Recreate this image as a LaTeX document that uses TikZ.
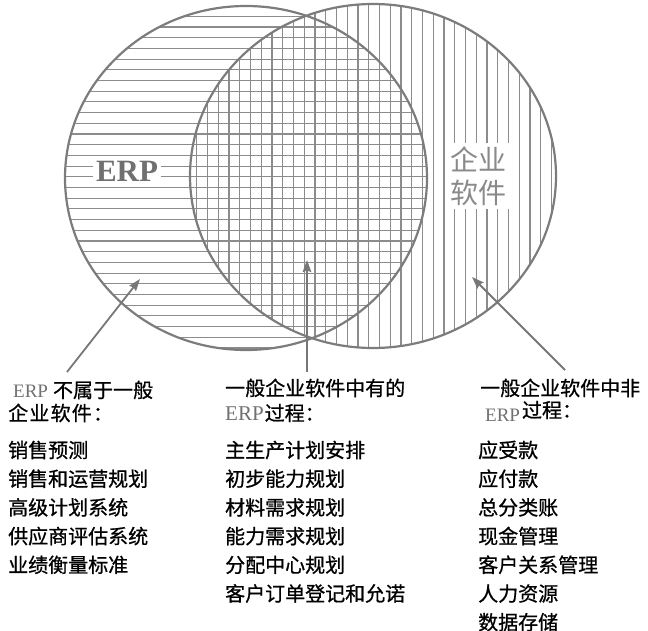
\documentclass[tikz,border=0pt]{standalone}
\usepackage{fontspec}
\setmainfont{Liberation Serif}
\newfontfamily\cjk{Noto Sans CJK SC}[FakeBold=0.8]
\newfontfamily\cjklight{Noto Sans CJK SC}
\newfontfamily\cjkwide{Noto Sans CJK SC}[LetterSpace=6,FakeBold=0.8]
\newfontfamily\erpfont{Liberation Serif}
\usetikzlibrary{arrows.meta}
\definecolor{lineg}{HTML}{7C7C7C}
\definecolor{hatchg}{HTML}{8C8C8C}
\definecolor{arrowg}{HTML}{777777}
\definecolor{erpg}{HTML}{707070}
\definecolor{softg}{HTML}{8A8A8A}
\newcommand{\erptag}[1]{\textcolor{erpg}{\erpfont\fontsize{#1}{#1}\selectfont ERP}}
\begin{document}
\begin{tikzpicture}[x=1pt,y=-1pt,
  hatch/.style={draw=hatchg,line width=1.1pt},
  rim/.style={draw=lineg,line width=2.2pt},
  ptr/.style={draw=arrowg,line width=1.8pt,-{Stealth[length=12pt,width=8.5pt,inset=1.5pt]}},
  txt/.style={anchor=base west,inner sep=0pt,font=\cjk\fontsize{20}{20}\selectfont},
  biglabel/.style={fill=white,inner sep=3pt}
]
\useasboundingbox (0,0) rectangle (648,631);

% hatching of ERP circle (horizontal)
\begin{scope}
  \clip (246,178) ellipse [x radius=181pt, y radius=172pt];
  \foreach \i in {0,...,32} {
    \draw[hatch] (60,{5.6+10.7*\i}) -- (430,{5.6+10.7*\i});
  }
\end{scope}
% hatching of enterprise software circle (vertical)
\begin{scope}
  \clip (373,176) ellipse [x radius=183pt, y radius=172pt];
  \foreach \i in {0,...,34} {
    \draw[hatch] ({196.7+10.75*\i},0) -- ({196.7+10.75*\i},352);
  }
\end{scope}

% outlines
\draw[rim] (246,178) ellipse [x radius=181pt, y radius=172pt];
\draw[rim] (373,176) ellipse [x radius=183pt, y radius=172pt];

% labels inside circles
\node[biglabel,text=erpg,font=\erpfont\bfseries\fontsize{31}{31}\selectfont] (erp) at (127,171) {ERP};
\node[biglabel,text=softg,align=center,font=\cjklight\fontsize{28}{33}\selectfont] (soft) at (478,176) {企业\\软件};

% arrows
\coordinate (t1) at (140,279);
\coordinate (b1) at (67,372);
\coordinate (t2) at (307,260);
\coordinate (b2) at (307,372);
\coordinate (t3) at (472,277);
\coordinate (b3) at (565,370);
\draw[ptr] (b1) -- (t1);
\draw[ptr] (b2) -- (t2);
\draw[ptr] (b3) -- (t3);

% left column
\node[txt] (lh1) at (13,397.6) {\erptag{19}\hspace{5pt}不属于一般};
\node[txt,font=\cjkwide\fontsize{20}{20}\selectfont] (lh2) at (8,420.6) {企业软件：};
\node[txt] (l1) at (8,457.6) {销售预测};
\node[txt] (l2) at (8,486.3) {销售和运营规划};
\node[txt] (l3) at (8,515.0) {高级计划系统};
\node[txt] (l4) at (8,543.7) {供应商评估系统};
\node[txt] (l5) at (8,572.4) {业绩衡量标准};

% middle column
\node[txt] (mh1) at (225,395.6) {一般企业软件中有的};
\node[txt] (mh2) at (225,420.6) {\erptag{21}\hspace{1pt}过程：};
\node[txt] (m1) at (225,457.6) {主生产计划安排};
\node[txt] (m2) at (225,486.3) {初步能力规划};
\node[txt] (m3) at (225,515.0) {材料需求规划};
\node[txt] (m4) at (225,543.7) {能力需求规划};
\node[txt] (m5) at (225,572.4) {分配中心规划};
\node[txt] (m6) at (225,601.1) {客户订单登记和允诺};

% right column
\node[txt] (rh1) at (480,395.6) {一般企业软件中非};
\node[txt] (rh2) at (485,417.6) {\raisebox{-4pt}{\erptag{19}}\hspace{2pt}过程：};
\node[txt] (r1) at (478,457.6) {应受款};
\node[txt] (r2) at (478,486.3) {应付款};
\node[txt] (r3) at (478,515.0) {总分类账};
\node[txt] (r4) at (478,543.7) {现金管理};
\node[txt] (r5) at (478,572.4) {客户关系管理};
\node[txt] (r6) at (478,601.1) {人力资源};
\node[txt] (r7) at (478,629.8) {数据存储};
\end{tikzpicture}
\end{document}
